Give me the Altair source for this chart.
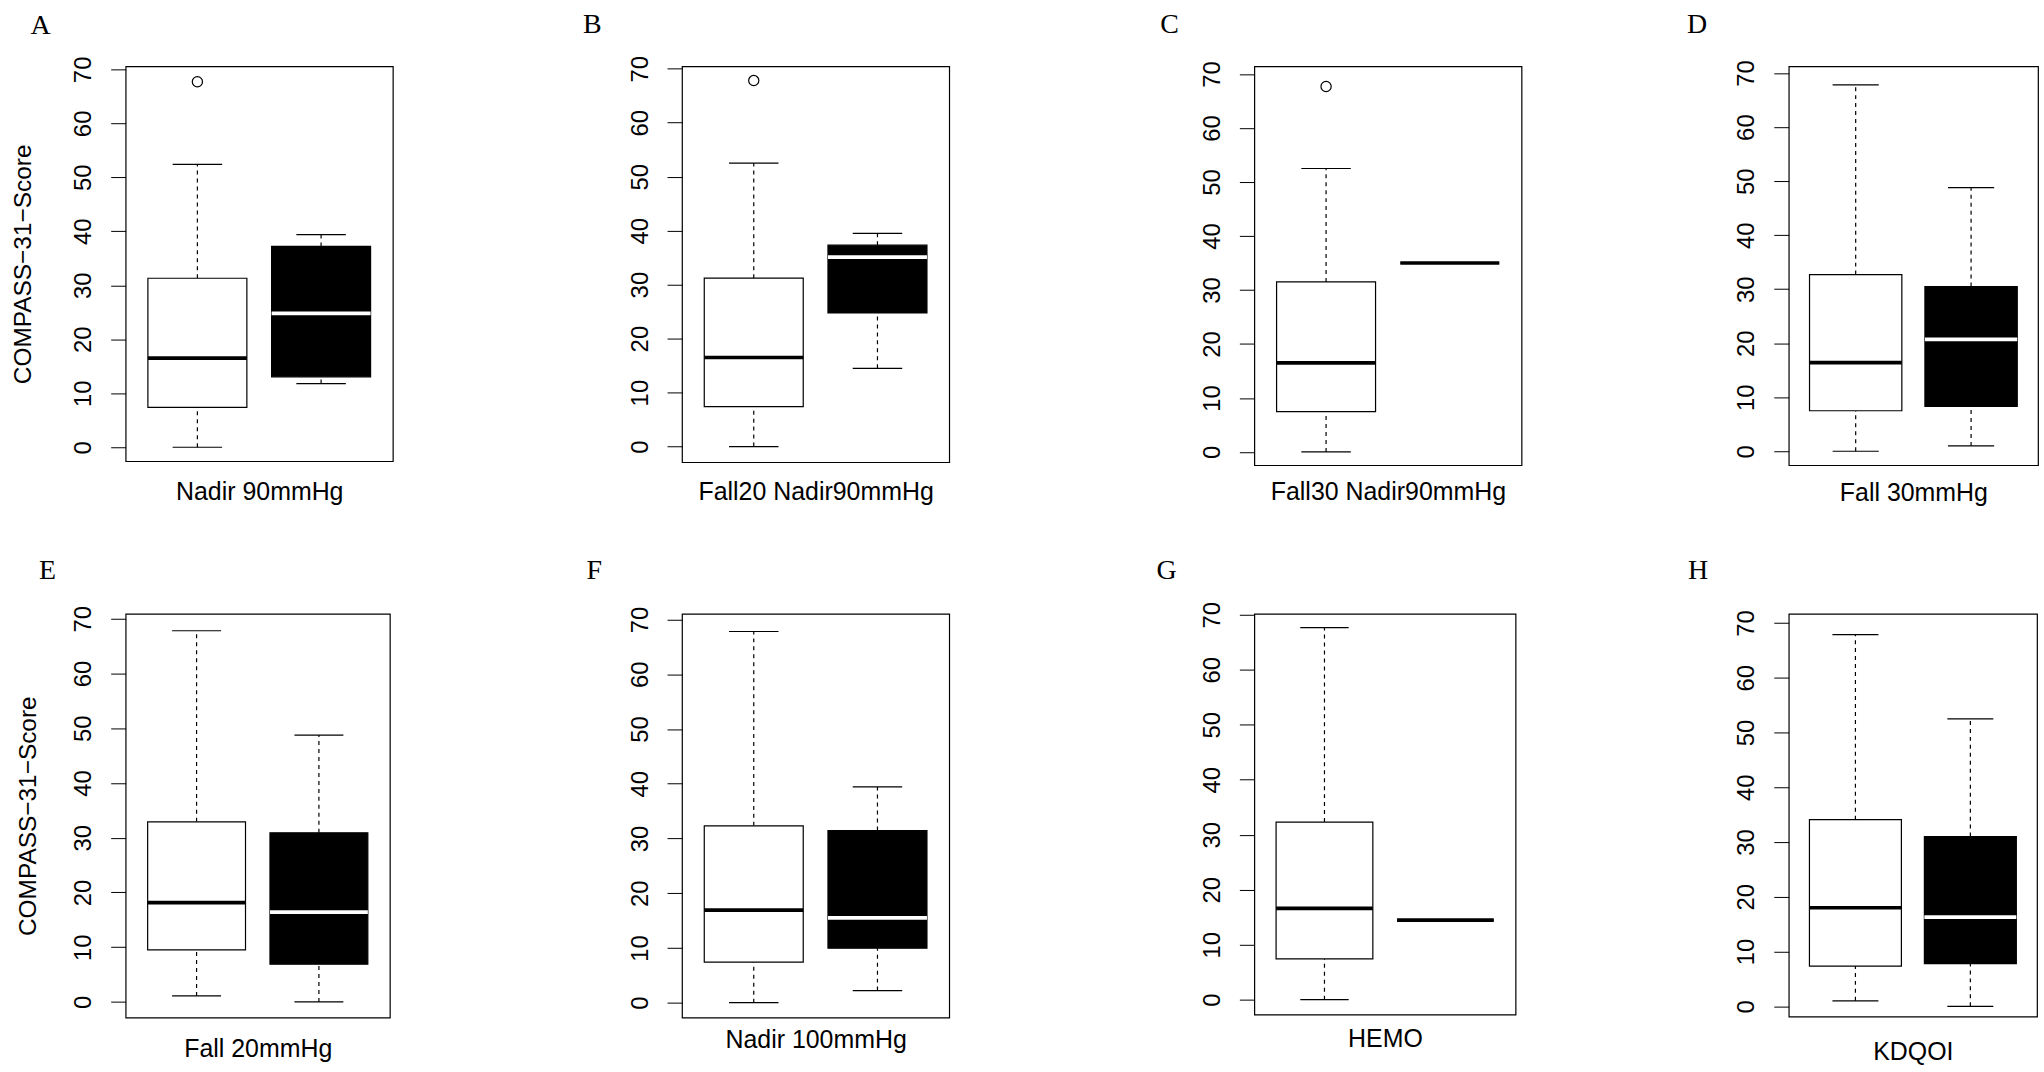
import altair as alt
import pandas as pd

# ---------------- data ----------------
panel_letters = ["A", "B", "C", "D", "E", "F", "G", "H"]
x_titles = ["Nadir 90mmHg", "Fall20 Nadir90mmHg", "Fall30 Nadir90mmHg", "Fall 30mmHg",
            "Fall 20mmHg", "Nadir 100mmHg", "HEMO", "KDQOI"]
y_title = "COMPASS\u221231\u2212Score"
y_ticks = [0, 10, 20, 30, 40, 50, 60, 70]

# group 1 (white boxes)
g1_low = [0.0, 0.0, 0.0, 0.0, 1.1, 0.0, 0.0, 1.0]
g1_q1 = [7.4, 7.4, 7.45, 7.5, 9.5, 7.4, 7.4, 7.35]
g1_med = [16.5, 16.5, 16.5, 16.4, 18.15, 16.9, 16.6, 18.0]
g1_q3 = [31.3, 31.2, 31.5, 32.7, 32.9, 32.3, 32.3, 34.1]
g1_high = [52.4, 52.5, 52.5, 67.8, 67.8, 67.8, 67.65, 67.9]
g1_outlier = [67.7, 67.8, 67.7, None, None, None, None, None]

# group 2 (black boxes)
g2_low = [11.8, 14.5, 35.0, 1.0, 0.0, 2.2, 14.45, 0.0]
g2_q1 = [13.05, 24.75, 35.0, 8.3, 6.9, 9.95, 14.45, 7.8]
g2_med = [24.8, 35.1, 35.0, 20.7, 16.4, 15.5, 14.45, 16.3]
g2_q3 = [37.2, 37.3, 35.0, 30.5, 30.9, 31.45, 14.45, 31.0]
g2_high = [39.4, 39.5, 35.0, 48.8, 48.75, 39.4, 14.45, 52.5]

# ---------------- layout / style settings ----------------
panel_w = [268, 268, 268, 250, 265, 268, 262, 249]
panel_h = [396, 397, 400, 400, 405, 405, 402, 404]
y_dom = [(-2.59, 70.55), (-2.9, 70.43), (-2.46, 71.42), (-2.58, 71.24),
         (-2.86, 70.9), (-2.73, 71.04), (-2.72, 70.18), (-1.88, 71.7)]
x_title_pad = [18, 17, 14.5, 15, 19, 10, 12, 23]
y_title_x = {0: -102, 4: -97.5}
letter_off = [(-85.3, -32.3), (-90, -33), (-85, -33.7), (-92, -33),
              (-78.3, -35), (-88, -35), (-88, -35), (-91, -35)]
gaps_row1 = [287, 300, 267]
gaps_row2 = [290, 306, 268]
row_gap = 144

SANS = "Liberation Sans"
SERIF = "Liberation Serif"


def panel(i):
    df = pd.DataFrame({
        "pos": [1, 2],
        "low": [g1_low[i], g2_low[i]],
        "q1": [g1_q1[i], g2_q1[i]],
        "med": [g1_med[i], g2_med[i]],
        "q3": [g1_q3[i], g2_q3[i]],
        "high": [g1_high[i], g2_high[i]],
        "fill": ["white", "black"],
    })
    df["medcol"] = ["black", "white" if g2_q3[i] > g2_q1[i] else "black"]

    xs = alt.Scale(domain=[0.42, 2.58], nice=False, zero=False)
    ys = alt.Scale(domain=list(y_dom[i]), nice=False, zero=False)
    xaxis = alt.Axis(labels=False, ticks=False, domain=False, grid=False,
                     title=x_titles[i], titlePadding=x_title_pad[i], titleFont=SANS,
                     titleFontSize=25, titleFontWeight="normal", titleColor="black")
    yaxis_kw = dict(values=y_ticks, tickSize=15, tickColor="black", tickWidth=1,
                    labelAngle=270, labelAlign="center", labelBaseline="alphabetic",
                    labelPadding=20, labelFont=SANS, labelFontSize=24, labelColor="black",
                    labelFlush=False, labelOverlap=False,
                    domain=False, grid=False)
    if i in y_title_x:
        yaxis = alt.Axis(title=y_title, titleX=y_title_x[i], titleAngle=270,
                         titleBaseline="middle", titleAlign="center", titleFont=SANS,
                         titleFontSize=24.5, titleFontWeight="normal", titleColor="black",
                         **yaxis_kw)
    else:
        yaxis = alt.Axis(title=None, **yaxis_kw)

    def X(f):
        return alt.X(f, type="quantitative", scale=xs, axis=xaxis)

    def Y(f):
        return alt.Y(f, type="quantitative", scale=ys, axis=yaxis)

    base = alt.Chart(df).transform_calculate(
        box_l="datum.pos - 0.4", box_r="datum.pos + 0.4",
        cap_l="datum.pos - 0.2", cap_r="datum.pos + 0.2")

    wh_up = base.mark_rule(color="black", strokeWidth=1.2, strokeDash=[4, 4]).encode(
        x=X("pos"), y=Y("q3"), y2="high:Q")
    wh_lo = base.mark_rule(color="black", strokeWidth=1.2, strokeDash=[4, 4]).encode(
        x=X("pos"), y=Y("low"), y2="q1:Q")
    cap_up = base.mark_rule(color="black", strokeWidth=1.2).encode(
        x=X("cap_l"), x2="cap_r:Q", y=Y("high"))
    cap_lo = base.mark_rule(color="black", strokeWidth=1.2).encode(
        x=X("cap_l"), x2="cap_r:Q", y=Y("low"))
    box = base.mark_rect(stroke="black", strokeWidth=1.2).encode(
        x=X("box_l"), x2="box_r:Q", y=Y("q1"), y2="q3:Q",
        fill=alt.Fill("fill:N", scale=None))
    med = base.mark_rule(strokeWidth=3.7).encode(
        x=X("box_l"), x2="box_r:Q", y=Y("med"),
        color=alt.Color("medcol:N", scale=None))

    layers = [wh_up, wh_lo, cap_up, cap_lo, box, med]

    if g1_outlier[i] is not None:
        odf = pd.DataFrame({"pos": [1], "val": [g1_outlier[i]]})
        outl = alt.Chart(odf).mark_point(shape="circle", filled=False, size=105,
                                         color="black", strokeWidth=1.2, opacity=1).encode(
            x=X("pos"), y=Y("val"))
        layers.append(outl)

    ldf = pd.DataFrame({"t": [panel_letters[i]]})
    letter = alt.Chart(ldf).mark_text(font=SERIF, fontSize=28, align="center",
                                      baseline="alphabetic", color="black").encode(
        text="t:N", x=alt.value(letter_off[i][0]), y=alt.value(letter_off[i][1]))
    layers.append(letter)

    return alt.layer(*layers).properties(width=panel_w[i], height=panel_h[i])


def spacer(w):
    return alt.Chart(pd.DataFrame({"a": [0]})).mark_point(opacity=0).encode(
        x=alt.value(0), y=alt.value(0)
    ).properties(width=w, height=1,
                 view=alt.ViewBackground(stroke="transparent", strokeOpacity=0))


p = [panel(i) for i in range(8)]

cells = [p[0], spacer(gaps_row1[0]), p[1], spacer(gaps_row1[1]), p[2], spacer(gaps_row1[2]), p[3],
         p[4], spacer(gaps_row2[0]), p[5], spacer(gaps_row2[1]), p[6], spacer(gaps_row2[2]), p[7]]

chart = alt.concat(
    *cells, columns=7, spacing={"row": row_gap, "column": 0}, bounds="flush",
    align={"row": "all", "column": "none"},
).properties(
    padding={"left": 10, "top": 8, "right": 5, "bottom": 5},
    background="white",
).configure_view(stroke="black", strokeWidth=1.2)

chart.save("out.html", embed_options={"renderer": "svg", "actions": False})
